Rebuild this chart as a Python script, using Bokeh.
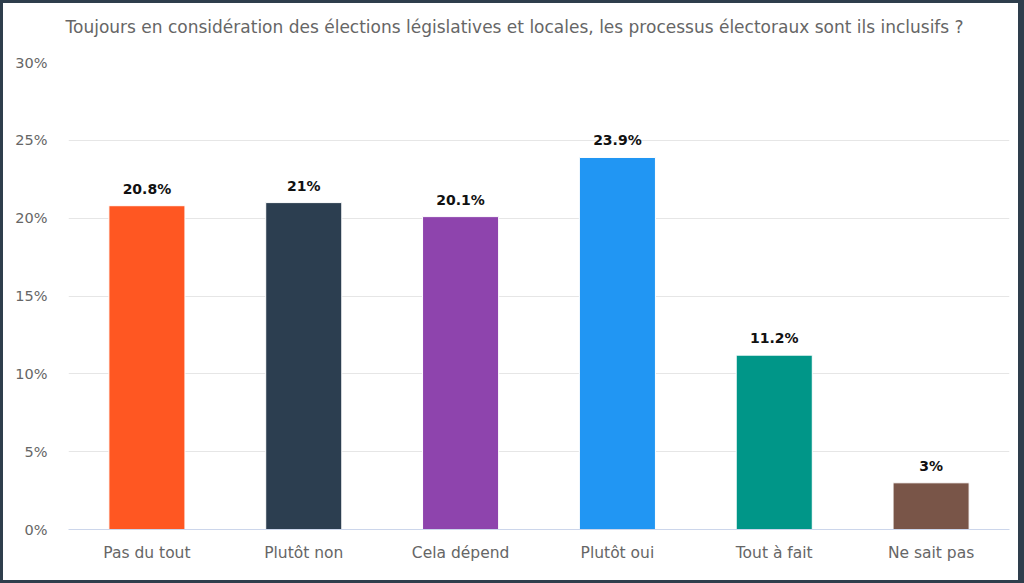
from bokeh.plotting import figure
from bokeh.models import ColumnDataSource, PrintfTickFormatter, FixedTicker, GlobalInlineStyleSheet, Title
from bokeh.core.properties import value
from bokeh.embed import file_html
from bokeh.resources import INLINE

categories = ["Pas du tout", "Plutôt non", "Cela dépend", "Plutôt oui", "Tout à fait", "Ne sait pas"]
values = [20.8, 21, 20.1, 23.9, 11.2, 3]
labels = ["20.8%", "21%", "20.1%", "23.9%", "11.2%", "3%"]
colors = ["#FF5722", "#2C3E50", "#8E44AD", "#2196F3", "#009688", "#795548"]
title_text = "Toujours en considération des élections législatives et locales, les processus électoraux sont ils inclusifs ?"
y_ticks = [0, 5, 10, 15, 20, 25, 30]

FONT = "DejaVu Sans"

src = ColumnDataSource(dict(cat=categories, val=values, lab=labels, col=colors))

p = figure(x_range=categories, y_range=(0, max(y_ticks)), width=1015, height=577,
           output_backend="svg", toolbar_location=None,
           min_border_left=65, min_border_right=9, min_border_top=59, min_border_bottom=51)

p.stylesheets = [GlobalInlineStyleSheet(css=(
    "html{background:#ffffff;}"
    "body{background:#ffffff;border-style:solid;border-color:#2E3E4C;"
    "border-width:3px 6px 3px 3px;padding:0 !important;}"))]

p.vbar(x="cat", top="val", width=0.485, fill_color="col", line_color="white", line_width=1, source=src)
p.text(x="cat", y="val", text="lab", source=src, text_align="center", text_baseline="middle",
       y_offset=-17, text_font=value(FONT), text_font_size="14px", text_font_style="bold",
       text_color="#111111")

# titles: a small spacer next to the plot area, then the real title above it
p.title = None
p.add_layout(Title(text=" ", text_font_size="1px", standoff=14), "above")
p.add_layout(Title(text=title_text, text_font=FONT, text_font_size="17px", text_font_style="normal",
                   text_color="#666666", align="left", offset=-3, standoff=17), "above")

p.background_fill_color = "white"
p.border_fill_color = "white"
p.outline_line_color = None

p.xgrid.grid_line_color = None
p.ygrid.grid_line_color = "#e6e6e6"
p.ygrid.grid_line_width = 1

p.yaxis.ticker = FixedTicker(ticks=y_ticks)
p.yaxis.formatter = PrintfTickFormatter(format="%d%%")
p.yaxis.axis_line_color = None
p.yaxis.major_tick_line_color = None
p.yaxis.minor_tick_line_color = None
p.yaxis.major_label_standoff = 15
p.yaxis.major_label_text_font = FONT
p.yaxis.major_label_text_font_size = "14.5px"
p.yaxis.major_label_text_color = "#666666"

p.xaxis.axis_line_color = "#ccd6eb"
p.xaxis.major_tick_line_color = None
p.xaxis.minor_tick_line_color = None
p.xaxis.major_label_standoff = 8
p.xaxis.major_label_text_font = FONT
p.xaxis.major_label_text_font_size = "15.5px"
p.xaxis.major_label_text_color = "#666666"
p.x_range.range_padding = 0

open("out.html", "w").write(file_html(p, INLINE))
